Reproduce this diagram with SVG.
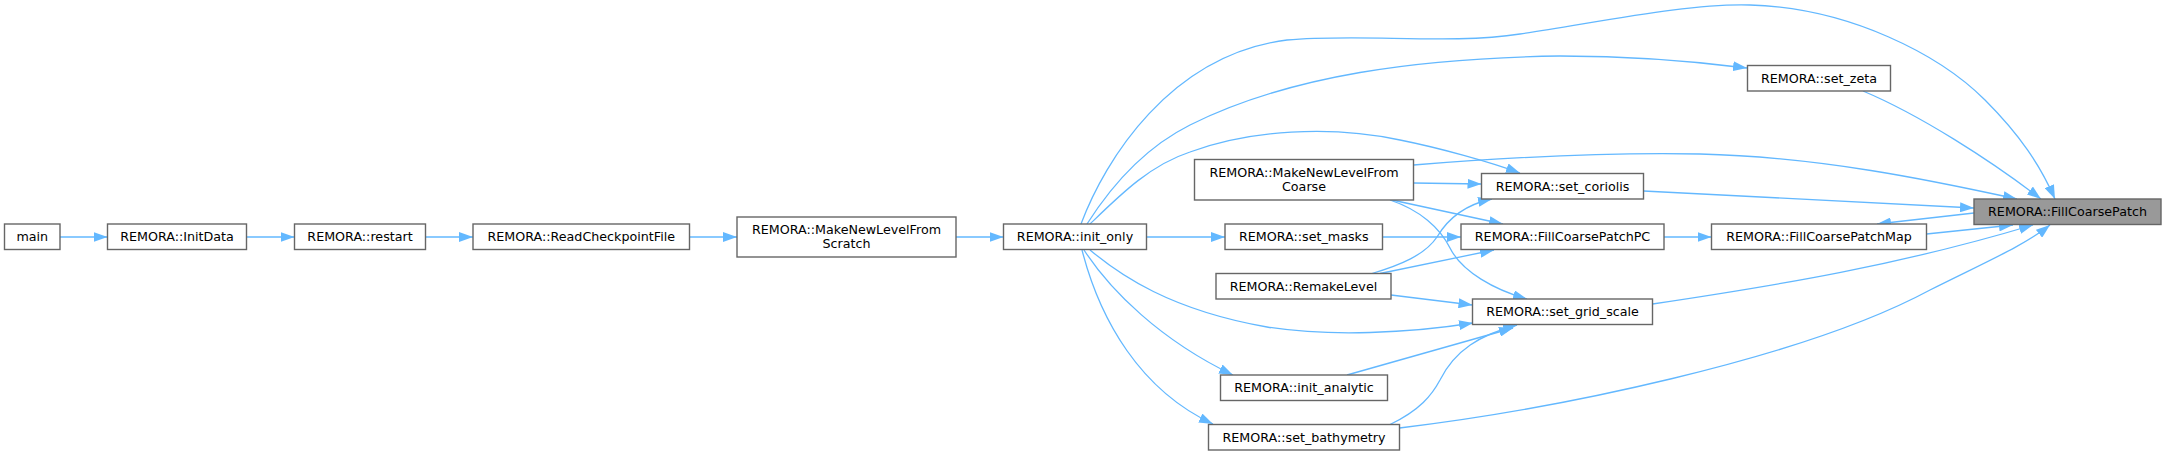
<svg xmlns="http://www.w3.org/2000/svg" width="2167" height="455" viewBox="0 0 2167 455">
<style>
.n rect{fill:#ffffff;stroke:#666666;stroke-width:1.4}
.n.root rect{fill:#999999}
.n text{font-family:"DejaVu Sans","Liberation Sans",sans-serif;font-size:12.7px;fill:#000000;text-anchor:middle}
.e path{fill:none;stroke:#63b8ff;stroke-width:1.3;marker-end:url(#ah)}
</style>
<defs>
<marker id="ah" markerUnits="userSpaceOnUse" markerWidth="14" markerHeight="10" viewBox="0 0 14 10" refX="14" refY="5" orient="auto">
<path d="M0,0L14,5L0,10z" fill="#63b8ff"/>
</marker>
</defs>
<rect width="2167" height="455" fill="#ffffff"/>
<g id="connectors" class="e">
<path d="M60,237L107.5,237"/>
<path d="M246.5,237L294.5,237"/>
<path d="M425.5,237L473,237"/>
<path d="M689.5,237L737,237"/>
<path d="M956,237L1003.5,237"/>
<path d="M1146.5,237L1225,237"/>
<path d="M1382.5,237L1461,237"/>
<path d="M1664,237L1711.5,237"/>
<path d="M1081,224C1105,160 1170,55 1287,40C1360,33 1450,45 1520,34C1600,22 1690,3 1750,5C1850,8 1940,55 1985,100C2020,135 2040,165 2055,199"/>
<path d="M1087,224C1115,180 1150,145 1190,125C1290,75 1420,58 1560,56C1640,56 1700,62 1747,68"/>
<path d="M1090,224C1120,195 1150,165 1190,152C1250,130 1330,125 1400,140C1440,148 1490,162 1520,173"/>
<path d="M1413.5,165C1500,158 1600,152 1700,154C1820,157 1930,180 2017,199"/>
<path d="M1413.5,183L1481.5,184"/>
<path d="M1392,200L1503,224"/>
<path d="M1390,200C1420,210 1440,228 1450,248C1462,272 1495,290 1527,299"/>
<path d="M1372,273.5C1400,265 1425,255 1437,237C1450,215 1468,204 1492,199"/>
<path d="M1380,273.5L1494,250"/>
<path d="M1391,295L1472.5,305"/>
<path d="M1090,250C1120,275 1170,310 1267,327C1330,337 1410,333 1473,323"/>
<path d="M1084,250C1110,290 1160,340 1233,375"/>
<path d="M1082,250C1100,320 1140,390 1213,424"/>
<path d="M1347,375L1513,328"/>
<path d="M1390,424.5C1420,410 1432,395 1440,380C1455,350 1480,335 1517,325"/>
<path d="M1399.5,428C1550,410 1800,360 1930,290C1990,260 2025,245 2050,225"/>
<path d="M1652.5,304C1780,285 1900,265 2033,225"/>
<path d="M1926.5,234L2013,225"/>
<path d="M1974,213L1877,224"/>
<path d="M1643.5,191L1974,208"/>
<path d="M1863,91C1920,115 1990,160 2041,199"/>
</g>
<g id="main" class="n"><rect x="4.5" y="224" width="55.5" height="25.5"/><text x="32.25" y="241.3">main</text></g>
<g id="InitData" class="n"><rect x="107.5" y="224" width="139" height="25.5"/><text x="177" y="241.3">REMORA::InitData</text></g>
<g id="restart" class="n"><rect x="294.5" y="224" width="131" height="25.5"/><text x="360" y="241.3">REMORA::restart</text></g>
<g id="ReadCheckpointFile" class="n"><rect x="473" y="224" width="216.5" height="25.5"/><text x="581.25" y="241.3">REMORA::ReadCheckpointFile</text></g>
<g id="MakeNewLevelFromScratch" class="n"><rect x="737" y="217" width="219" height="40"/><text x="846.5" y="233.8">REMORA::MakeNewLevelFrom</text><text x="846.5" y="248.3">Scratch</text></g>
<g id="init_only" class="n"><rect x="1003.5" y="224" width="143" height="25.5"/><text x="1075" y="241.3">REMORA::init_only</text></g>
<g id="MakeNewLevelFromCoarse" class="n"><rect x="1194.5" y="159.5" width="219" height="40.5"/><text x="1304" y="176.5">REMORA::MakeNewLevelFrom</text><text x="1304" y="191">Coarse</text></g>
<g id="set_masks" class="n"><rect x="1225" y="224" width="157.5" height="25.5"/><text x="1303.75" y="241.3">REMORA::set_masks</text></g>
<g id="RemakeLevel" class="n"><rect x="1216" y="273.5" width="175" height="25.5"/><text x="1303.5" y="290.8">REMORA::RemakeLevel</text></g>
<g id="init_analytic" class="n"><rect x="1220.5" y="375" width="167" height="25.5"/><text x="1304" y="392.3">REMORA::init_analytic</text></g>
<g id="set_bathymetry" class="n"><rect x="1208.5" y="424.5" width="191" height="25.5"/><text x="1304" y="441.8">REMORA::set_bathymetry</text></g>
<g id="set_coriolis" class="n"><rect x="1481.5" y="173.5" width="162" height="25.5"/><text x="1562.5" y="190.8">REMORA::set_coriolis</text></g>
<g id="FillCoarsePatchPC" class="n"><rect x="1461" y="224" width="203" height="25.5"/><text x="1562.5" y="241.3">REMORA::FillCoarsePatchPC</text></g>
<g id="set_grid_scale" class="n"><rect x="1472.5" y="299" width="180" height="25.5"/><text x="1562.5" y="316.3">REMORA::set_grid_scale</text></g>
<g id="set_zeta" class="n"><rect x="1747.5" y="65.5" width="143" height="25.5"/><text x="1819" y="82.8">REMORA::set_zeta</text></g>
<g id="FillCoarsePatchMap" class="n"><rect x="1711.5" y="224" width="215" height="25.5"/><text x="1819" y="241.3">REMORA::FillCoarsePatchMap</text></g>
<g id="FillCoarsePatch" class="n root"><rect x="1974" y="199" width="187" height="25.5"/><text x="2067.5" y="216.3">REMORA::FillCoarsePatch</text></g>
</svg>
